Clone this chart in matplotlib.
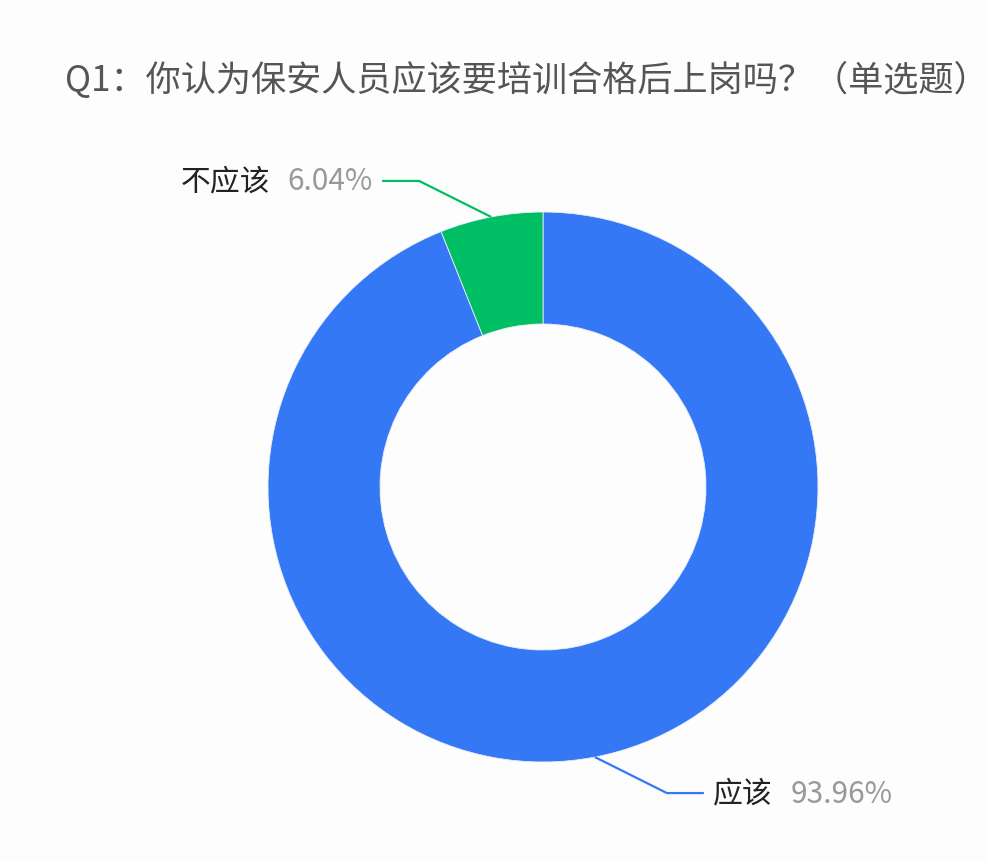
import numpy as np
import matplotlib.pyplot as plt

plt.rcParams['font.family'] = ['Noto Sans CJK SC', 'DejaVu Sans']

# data
labels = ['应该', '不应该']
values = [93.96, 6.04]
colors = ['#3478F6', '#00BE63']
title = 'Q1：你认为保安人员应该要培训合格后上岗吗？（单选题）'

W, H = 988, 862
fig = plt.figure(figsize=(W / 100, H / 100), dpi=100)
fig.patch.set_facecolor('#fdfdfd')
ax = fig.add_axes([0, 0, 1, 1])
ax.set_xlim(0, W)
ax.set_ylim(0, H)
ax.set_aspect('equal')
ax.axis('off')

cx, cy = 543, H - 488
r_out, r_in = 275, 163

wedges, _ = ax.pie(values, colors=colors, startangle=90, counterclock=False,
                   radius=r_out, center=(cx, cy),
                   wedgeprops=dict(width=r_out - r_in, edgecolor='#e8eef8', linewidth=0.6))
ax.set_xlim(0, W)
ax.set_ylim(0, H)

ax.text(65, H - 80, title, fontsize=25.3, color='#555555', ha='left', va='center')

# label lines
for w, name, val, col in zip(wedges, labels, values, colors):
    mid = np.deg2rad((w.theta1 + w.theta2) / 2)
    x0 = cx + r_out * np.cos(mid)
    y0 = cy + r_out * np.sin(mid)
    sx = 1 if np.cos(mid) >= 0 else -1
    sy = 1 if np.sin(mid) >= 0 else -1
    x1, y1 = x0 + sx * 72, y0 + sy * 36
    x2 = x1 + sx * 37
    ax.plot([x0, x1, x2], [y0, y1, y1], color=col, lw=1.6, solid_capstyle='butt')
    if sx > 0:
        ax.text(x2 + 9, y1, name, fontsize=21.5, color='#222222', ha='left', va='center')
        ax.text(x2 + 87, y1, f'{val:.2f}%', fontsize=21.5, color='#999999', ha='left', va='center')
    else:
        ax.text(x2 - 10, y1, f'{val:.2f}%', fontsize=21.5, color='#999999', ha='right', va='center')
        ax.text(x2 - 112, y1, name, fontsize=21.5, color='#222222', ha='right', va='center')

fig.savefig('out.png', dpi=100, facecolor=fig.get_facecolor())
